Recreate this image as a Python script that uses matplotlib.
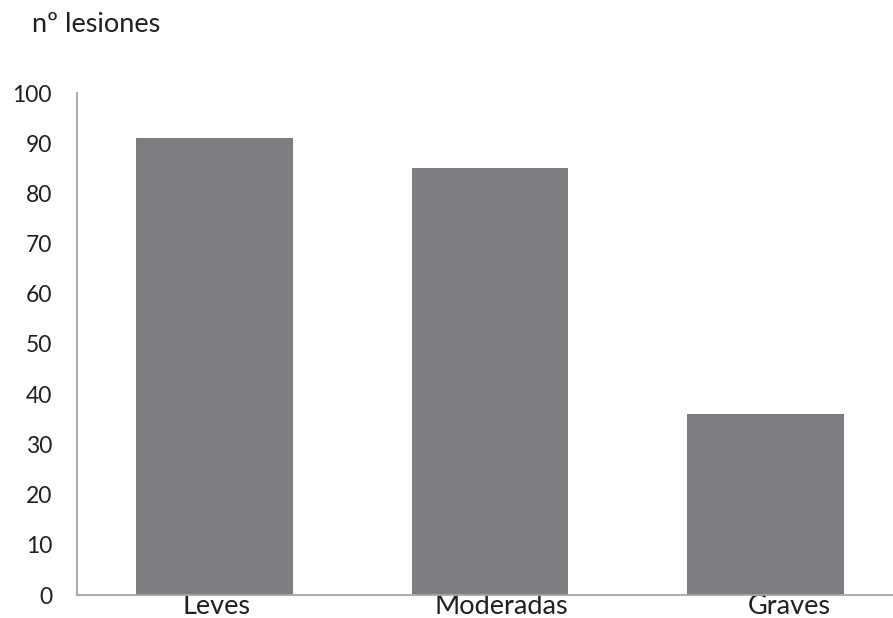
import matplotlib.pyplot as plt
from matplotlib.transforms import ScaledTranslation

categorias = ["Leves", "Moderadas", "Graves"]
lesiones = [91, 85, 36]
yticks = list(range(0, 101, 10))

plt.rcParams['font.family'] = ['Lato', 'DejaVu Sans']

fig = plt.figure(figsize=(8.93, 6.18), dpi=100)
ax = fig.add_axes([77 / 893, 23 / 618, 826 / 893, 502 / 618])

x = range(len(categorias))
ax.bar(x, lesiones, width=0.57, color="#7d7e82", zorder=2)

ax.set_xlim(-0.5, 2.5)
ax.set_ylim(0, 100)
ax.set_yticks(yticks)
ax.set_xticks(list(x))
ax.set_xticklabels(categorias)

for s in ["top", "right"]:
    ax.spines[s].set_visible(False)
for s in ["left", "bottom"]:
    ax.spines[s].set_color("#a6a6a6")
    ax.spines[s].set_linewidth(1.3)

ax.tick_params(axis="y", length=0, pad=18, labelsize=16.5, labelcolor="#231f20")
ax.tick_params(axis="x", length=0, pad=-1, labelsize=19.5, labelcolor="#231f20")

# las etiquetas del eje x no quedan centradas bajo las barras
for lbl, dx in zip(ax.get_xticklabels(), [0.015, 0.11, 0.24]):
    lbl.set_transform(lbl.get_transform() + ScaledTranslation(dx, 0, fig.dpi_scale_trans))

fig.text(32 / 893, 1 - 25 / 618, "nº lesiones", fontsize=19.5, color="#231f20",
         ha="left", va="center")

fig.savefig("out.png", dpi=100)
